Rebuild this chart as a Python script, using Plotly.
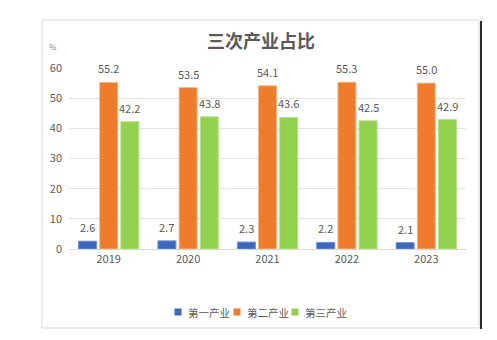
import plotly.graph_objects as go

# Share of GDP by sector, 2019-2023 (%)
years = ["2019", "2020", "2021", "2022", "2023"]
series_names = ["第一产业", "第二产业", "第三产业"]
primary = [2.6, 2.7, 2.3, 2.2, 2.1]
secondary = [55.2, 53.5, 54.1, 55.3, 55.0]
tertiary = [42.2, 43.8, 43.6, 42.5, 42.9]
y_ticks = [0, 10, 20, 30, 40, 50, 60]

colors = ["#3C67BA", "#EF7B2C", "#92D050"]
edge_colors = ["#6F8FD0", "#F5B98A", "#B5E08A"]
font_family = "Noto Sans CJK SC"
text_gray = "#595959"

# plot area geometry (px) used to place paper-referenced decorations
W, H = 497, 340
L, R, T, B = 69, 31, 68, 91
pw, ph = W - L - R, H - T - B


def px_x(x):
    return (x - L) / pw


def px_y(y):
    return (H - B - y) / ph


fig = go.Figure()
all_series = [primary, secondary, tertiary]
for name, vals, c, ec in zip(series_names, all_series, colors, edge_colors):
    fig.add_trace(go.Bar(
        x=years, y=vals, name=name,
        marker=dict(color=c, line=dict(color=ec, width=1)),
        showlegend=False,
    ))

# value labels above each bar (category axis: x is the category index)
slot = pw / len(years) * 0.8 / 3
annotations = []
for i, vals in enumerate(all_series):
    for j, v in enumerate(vals):
        annotations.append(dict(
            x=j, y=v, xref="x", yref="y", text=f"{v:.1f}",
            showarrow=False, xshift=(i - 1) * slot, yshift=14,
            yanchor="middle", font=dict(size=11, color=text_gray, family=font_family),
        ))

# title and unit
annotations.append(dict(
    x=px_x(261), y=px_y(40), xref="paper", yref="paper", text="<b>三次产业占比</b>",
    showarrow=False, xanchor="center", yanchor="middle",
    font=dict(size=18, color=text_gray, family=font_family),
))
annotations.append(dict(
    x=px_x(53), y=px_y(47), xref="paper", yref="paper", text="%",
    showarrow=False, xanchor="center", yanchor="middle",
    font=dict(size=8, color="#808080", family=font_family),
))

# legend row
shapes = []
legend_x = [178, 237, 295]
for name, c, lx in zip(series_names, colors, legend_x):
    shapes.append(dict(
        type="rect", xref="paper", yref="paper",
        x0=px_x(lx - 3.5), x1=px_x(lx + 3.5), y0=px_y(315.5), y1=px_y(308.5),
        fillcolor=c, line=dict(width=0),
    ))
    annotations.append(dict(
        x=px_x(lx + 8), y=px_y(312), xref="paper", yref="paper", text=name,
        showarrow=False, xanchor="left", yanchor="middle",
        font=dict(size=10.5, color=text_gray, family=font_family),
    ))

# chart frame
shapes.append(dict(
    type="rect", xref="paper", yref="paper",
    x0=px_x(42), x1=px_x(479), y0=px_y(328), y1=px_y(20),
    line=dict(color="#D9D9D9", width=1), fillcolor="rgba(0,0,0,0)", layer="below",
))
shapes.append(dict(
    type="line", xref="paper", yref="paper",
    x0=px_x(481), x1=px_x(481), y0=px_y(329), y1=px_y(21),
    line=dict(color="#2B2B2B", width=2),
))

fig.update_layout(
    width=W, height=H,
    margin=dict(l=L, r=R, t=T, b=B),
    paper_bgcolor="white", plot_bgcolor="white",
    barmode="group", bargap=0.2, bargroupgap=0.15,
    font=dict(family=font_family, color=text_gray, size=11),
    annotations=annotations, shapes=shapes,
    showlegend=False,
)
fig.update_xaxes(
    type="category", categoryorder="array", categoryarray=years,
    range=[-0.5, len(years) - 0.5], autorange=False,
    showgrid=False, showline=True, linecolor="#D9D9D9", linewidth=1,
    ticks="", tickfont=dict(size=11, color=text_gray),
)
fig.update_yaxes(
    range=[0, 60], autorange=False, tickvals=y_ticks, showgrid=True,
    gridcolor="#E3E3E3", gridwidth=1,
    zeroline=False, showline=False, ticks="", ticklabelstandoff=6,
    tickfont=dict(size=11, color=text_gray),
)

fig.write_html("out.html")
